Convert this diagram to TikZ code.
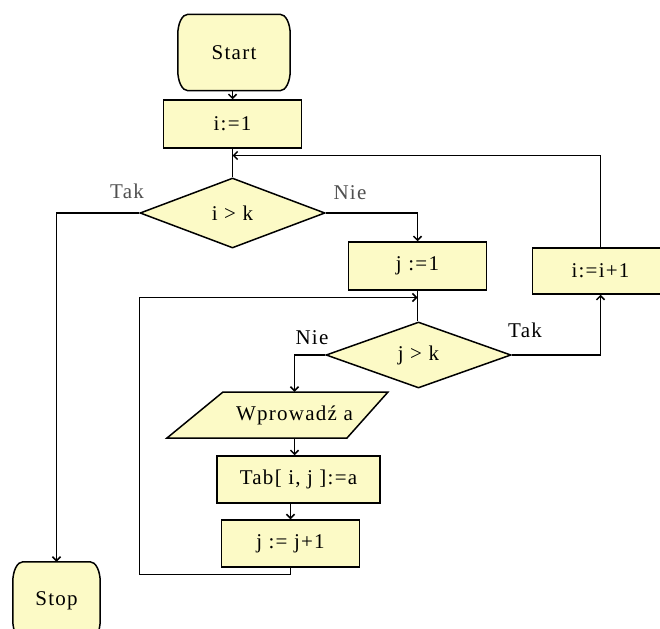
\documentclass[tikz,border=0pt]{standalone}
\usepackage{fontspec}
\setmainfont{Liberation Serif}[LetterSpace=6]
\usetikzlibrary{shapes.geometric,arrows.meta}
\definecolor{boxfill}{RGB}{252,250,198}
\definecolor{lblgray}{RGB}{80,80,80}
\pgfdeclarelayer{bg}
\pgfsetlayers{bg,main}
% rounded terminal outline drawn around an (invisible) node
\newcommand\termoutline[1]{%
  \draw[outline] ([xshift=10pt]#1.north west) -- ([xshift=-10pt]#1.north east)
    arc[start angle=90,end angle=0,x radius=10pt,y radius=20pt]
    -- ([yshift=20pt]#1.south east)
    arc[start angle=0,end angle=-90,x radius=10pt,y radius=20pt]
    -- ([xshift=10pt]#1.south west)
    arc[start angle=270,end angle=180,x radius=10pt,y radius=20pt]
    -- ([yshift=-20pt]#1.north west)
    arc[start angle=180,end angle=90,x radius=10pt,y radius=20pt] -- cycle;}
\begin{document}
\begin{tikzpicture}[x=1pt,y=-1pt,
  >={Straight Barb[length=4pt,width=8pt]},
  every node/.style={font=\fontsize{21}{24}\selectfont,inner sep=0pt},
  outline/.style={draw=black,line width=1.5pt,fill=boxfill},
  conn/.style={draw=black,line width=1.5pt},
  proc/.style={rectangle,outline,minimum width=138pt,minimum height=48pt},
  decision/.style={diamond,outline,minimum width=185pt,minimum height=68pt},
  term/.style={rectangle,minimum width=#1,minimum height=76pt},
  iobox/.style={rectangle,minimum width=120pt,minimum height=46pt},
  lbl/.style={text=black},
  lblup/.style={text=lblgray}]
\path[use as bounding box] (0,0) rectangle (660,628);
\clip (0,0) rectangle (660,628);

% nodes
\node[term=112pt] (start) at (234,52.5) {Start};
\node[proc] (i1) at (232.5,124) {i:=1};
\node[decision,minimum height=70pt] (ik) at (232.5,213) {i > k};
\node[proc] (j1) at (417.5,266) {j :=1};
\node[proc,minimum width=136pt,minimum height=46pt] (ii1) at (600.5,271) {i:=i+1};
\node[decision,minimum height=66pt] (jk) at (418.5,355) {j > k};
\node[iobox] (wpr) at (294.5,415) {Wprowadź a};
\node[proc,minimum width=163pt,minimum height=47pt] (tab) at (298.5,479.5) {Tab[ i, j ]:=a};
\node[proc,minimum height=47pt] (jj1) at (290.5,543.5) {j := j+1};
\node[term=87pt,minimum height=78pt] (stop) at (56.5,601) {Stop};

% white page, then outlines of terminals and input shape
\begin{pgfonlayer}{bg}
  \fill[white] (0,0) rectangle (660,628);
  \termoutline{start}
  \termoutline{stop}
  \draw[outline] (223,392) -- (388,392) -- (347,438) -- (167,438) -- cycle;
\end{pgfonlayer}

% branch labels
\node[lblup] (tak1) at (127,191) {Tak};
\node[lblup] (nie1) at (350,193) {Nie};
\node[lbl] (nie2) at (312,338) {Nie};
\node[lbl] (tak2) at (525,330) {Tak};

% junction points
\coordinate (fb) at (232.5,155.5);
\coordinate (lj) at (417.5,297.5);
\coordinate (lb) at (139.5,574.5);

% connectors
\draw[conn,->] (start.south -| i1.north) -- (i1.north);
\draw[conn] (i1.south) -- (i1.south |- ik.north);
\draw[conn,->] (ik.west) -| (stop.north);
\draw[conn,->] (ik.east) -| (j1.north);
\draw[conn] (j1.south) -- (j1.south |- jk.north);
\draw[conn,->] (jk.east) -| (ii1.south);
\draw[conn,->] (ii1.north) |- (fb);
\draw[conn,->] (jk.west) -| (wpr.north);
\draw[conn,->] (wpr.south) -- (wpr.south |- tab.north);
\draw[conn,->] (jj1.north |- tab.south) -- (jj1.north);
\draw[conn,->] (jj1.south) |- (lb) |- (lj);
\end{tikzpicture}
\end{document}
